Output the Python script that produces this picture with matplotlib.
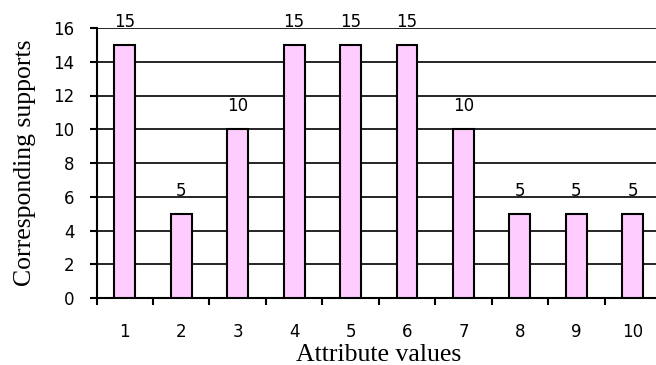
import matplotlib
matplotlib.use("Agg")
import matplotlib.pyplot as plt
import numpy as np

categories = ["1", "2", "3", "4", "5", "6", "7", "8", "9", "10"]
supports = [15, 5, 10, 15, 15, 15, 10, 5, 5, 5]
yticks = [0, 2, 4, 6, 8, 10, 12, 14, 16]

num_font = "DejaVu Sans"

fig = plt.figure(figsize=(6.56, 3.65), dpi=100)
ax = fig.add_axes([96.5 / 656, 67 / 365, 564.5 / 656, 270 / 365])

x = np.arange(1, len(categories) + 1)
bars = ax.bar(x, supports, width=0.37, color="#ffccff", edgecolor="black",
              linewidth=1.5, zorder=3)

for xi, v in zip(x, supports):
    ax.annotate(str(v), (xi, v), xytext=(0, 10), textcoords="offset points",
                ha="center", va="bottom", fontsize=12, family=num_font)

ax.set_xlim(0.5, len(categories) + 0.5)
ax.set_ylim(0, 16)
ax.set_yticks(yticks)
ax.set_yticklabels([str(t) for t in yticks], fontsize=12, family=num_font)
ax.set_xticks(x)
ax.set_xticklabels(categories, fontsize=12, family=num_font)
ax.set_xticks(np.arange(0.5, len(categories) + 1, 1), minor=True)
ax.tick_params(axis="x", which="major", length=0, pad=18)
ax.tick_params(axis="x", which="minor", length=5, width=1.5, direction="out")
ax.tick_params(axis="y", length=5, width=1.5, direction="out", pad=11)

ax.yaxis.grid(True, color="black", linewidth=1.2, zorder=0)
ax.set_axisbelow(True)
for s in ["top", "right"]:
    ax.spines[s].set_visible(False)
ax.spines["left"].set_linewidth(1.5)
ax.spines["bottom"].set_linewidth(1.5)

ax.set_xlabel("Attribute values", fontsize=18.5, family="Liberation Serif", labelpad=2)
ax.set_ylabel("Corresponding supports", fontsize=18.5, family="Liberation Serif", labelpad=12)

fig.savefig("out.png", dpi=100)
